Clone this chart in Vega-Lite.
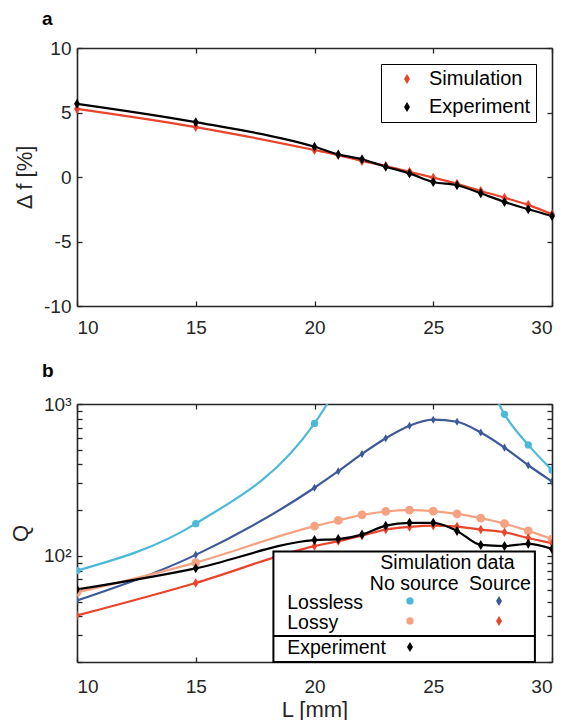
{
  "$schema": "https://vega.github.io/schema/vega-lite/v6.json",
  "padding": {"left": 9, "top": 10, "right": 0, "bottom": 0},
  "spacing": 25,
  "resolve": {"scale": {"color": "independent", "shape": "independent", "size": "independent"}, "legend": {"color": "independent", "shape": "independent", "size": "independent"}},
  "config": {
    "font": "Liberation Sans",
    "view": {"stroke": null},
    "axis": {
      "domainColor": "#262626", "domainWidth": 1.6, "tickColor": "#262626", "tickWidth": 1.3,
      "tickSize": -5, "labelColor": "#262626", "labelFontSize": 19, "labelFont": "Liberation Sans",
      "titleColor": "#262626", "titleFontSize": 22, "titleFontWeight": "normal", "titleFont": "Liberation Sans",
      "grid": false
    },
    "title": {"fontSize": 19, "fontWeight": "bold", "font": "Liberation Sans", "color": "#000000"}
  },
  "vconcat": [
    {
      "width": 475, "height": 258,
      "title": {"text": "a", "anchor": "start", "frame": "group", "dx": -35, "offset": 10},
      "data": {"values": [
        {"L": 10, "df": 5.28, "series": "Simulation"},
        {"L": 15, "df": 3.87, "series": "Simulation"},
        {"L": 20, "df": 2.09, "series": "Simulation"},
        {"L": 21, "df": 1.70, "series": "Simulation"},
        {"L": 22, "df": 1.24, "series": "Simulation"},
        {"L": 23, "df": 0.85, "series": "Simulation"},
        {"L": 24, "df": 0.41, "series": "Simulation"},
        {"L": 25, "df": -0.05, "series": "Simulation"},
        {"L": 26, "df": -0.52, "series": "Simulation"},
        {"L": 27, "df": -1.08, "series": "Simulation"},
        {"L": 28, "df": -1.60, "series": "Simulation"},
        {"L": 29, "df": -2.16, "series": "Simulation"},
        {"L": 30, "df": -2.89, "series": "Simulation"},
        {"L": 10, "df": 5.67, "series": "Experiment"},
        {"L": 15, "df": 4.25, "series": "Experiment"},
        {"L": 20, "df": 2.35, "series": "Experiment"},
        {"L": 21, "df": 1.75, "series": "Experiment"},
        {"L": 22, "df": 1.37, "series": "Experiment"},
        {"L": 23, "df": 0.80, "series": "Experiment"},
        {"L": 24, "df": 0.28, "series": "Experiment"},
        {"L": 25, "df": -0.39, "series": "Experiment"},
        {"L": 26, "df": -0.64, "series": "Experiment"},
        {"L": 27, "df": -1.26, "series": "Experiment"},
        {"L": 28, "df": -1.93, "series": "Experiment"},
        {"L": 29, "df": -2.50, "series": "Experiment"},
        {"L": 30, "df": -3.02, "series": "Experiment"}
      ]},
      "layer": [
        {
          "mark": {"type": "line", "strokeWidth": 2.2, "interpolate": "monotone"},
          "encoding": {
            "x": {"field": "L", "type": "quantitative", "scale": {"domain": [10, 30], "nice": false},
                  "axis": {"orient": "bottom", "values": [10, 15, 20, 25, 30], "title": null, "labelPadding": 17}},
            "y": {"field": "df", "type": "quantitative", "scale": {"domain": [-10, 10], "nice": false},
                  "axis": {"orient": "left", "values": [-10, -5, 0, 5, 10], "format": "d", "labelExpr": "replace(datum.label, '−', '-')", "title": "Δ f [%]", "labelPadding": 11, "titlePadding": 7}},
            "color": {"field": "series", "type": "nominal",
                      "scale": {"domain": ["Simulation", "Experiment"], "range": ["#e8452c", "#000000"]},
                      "legend": {"title": null, "orient": "top-right", "offset": 16, "strokeColor": "#000000",
                                 "fillColor": "#ffffff", "padding": 5, "labelFontSize": 20, "labelColor": "#000000",
                                 "symbolType": "M0,-1L0.6,0L0,1L-0.6,0Z", "symbolSize": 100, "symbolOffset": 11,
                                 "labelOffset": 12, "rowPadding": 8, "symbolStrokeWidth": 0, "symbolOpacity": 1}}
          }
        },
        {
          "mark": {"type": "point", "filled": true, "opacity": 1, "size": 100, "shape": "M0,-1L0.6,0L0,1L-0.6,0Z"},
          "encoding": {
            "x": {"field": "L", "type": "quantitative",
                  "axis": {"orient": "top", "values": [10, 15, 20, 25, 30], "labels": false, "title": null}},
            "y": {"field": "df", "type": "quantitative",
                  "axis": {"orient": "right", "values": [-10, -5, 0, 5, 10], "labels": false, "title": null}},
            "color": {"field": "series", "type": "nominal",
                      "legend": {"title": null, "orient": "top-right", "offset": 16, "strokeColor": "#000000",
                                 "fillColor": "#ffffff", "padding": 5, "labelFontSize": 20, "labelColor": "#000000",
                                 "symbolType": "M0,-1L0.6,0L0,1L-0.6,0Z", "symbolSize": 100, "symbolOffset": 11,
                                 "labelOffset": 12, "rowPadding": 8, "symbolStrokeWidth": 0, "symbolOpacity": 1}}
          }
        }
      ],
      "resolve": {"axis": {"x": "independent", "y": "independent"}}
    },
    {
      "width": 475, "height": 258,
      "title": {"text": "b", "anchor": "start", "frame": "group", "dx": -35, "offset": 14},
      "data": {"values": [
        {"L": 10, "Q": 80, "series": "Lossless no source"},
        {"L": 15, "Q": 163, "series": "Lossless no source"},
        {"L": 20, "Q": 745, "series": "Lossless no source"},
        {"L": 21, "Q": 1300, "series": "Lossless no source"},
        {"L": 22, "Q": 2200, "series": "Lossless no source"},
        {"L": 23, "Q": 3500, "series": "Lossless no source"},
        {"L": 24, "Q": 5000, "series": "Lossless no source"},
        {"L": 25, "Q": 5500, "series": "Lossless no source"},
        {"L": 26, "Q": 4000, "series": "Lossless no source"},
        {"L": 27, "Q": 1800, "series": "Lossless no source"},
        {"L": 28, "Q": 855, "series": "Lossless no source"},
        {"L": 29, "Q": 538, "series": "Lossless no source"},
        {"L": 30, "Q": 367, "series": "Lossless no source"},
        {"L": 10, "Q": 50.8, "series": "Lossless source"},
        {"L": 15, "Q": 101.5, "series": "Lossless source"},
        {"L": 20, "Q": 281, "series": "Lossless source"},
        {"L": 21, "Q": 361, "series": "Lossless source"},
        {"L": 22, "Q": 469, "series": "Lossless source"},
        {"L": 23, "Q": 595, "series": "Lossless source"},
        {"L": 24, "Q": 719, "series": "Lossless source"},
        {"L": 25, "Q": 788, "series": "Lossless source"},
        {"L": 26, "Q": 764, "series": "Lossless source"},
        {"L": 27, "Q": 649, "series": "Lossless source"},
        {"L": 28, "Q": 516, "series": "Lossless source"},
        {"L": 29, "Q": 395, "series": "Lossless source"},
        {"L": 30, "Q": 309, "series": "Lossless source"},
        {"L": 10, "Q": 57.4, "series": "Lossy no source"},
        {"L": 15, "Q": 90.3, "series": "Lossy no source"},
        {"L": 20, "Q": 157, "series": "Lossy no source"},
        {"L": 21, "Q": 171, "series": "Lossy no source"},
        {"L": 22, "Q": 186, "series": "Lossy no source"},
        {"L": 23, "Q": 196, "series": "Lossy no source"},
        {"L": 24, "Q": 200, "series": "Lossy no source"},
        {"L": 25, "Q": 197, "series": "Lossy no source"},
        {"L": 26, "Q": 189, "series": "Lossy no source"},
        {"L": 27, "Q": 177, "series": "Lossy no source"},
        {"L": 28, "Q": 163, "series": "Lossy no source"},
        {"L": 29, "Q": 146, "series": "Lossy no source"},
        {"L": 30, "Q": 129, "series": "Lossy no source"},
        {"L": 10, "Q": 40.5, "series": "Lossy source"},
        {"L": 15, "Q": 66.3, "series": "Lossy source"},
        {"L": 20, "Q": 116, "series": "Lossy source"},
        {"L": 21, "Q": 125, "series": "Lossy source"},
        {"L": 22, "Q": 136, "series": "Lossy source"},
        {"L": 23, "Q": 149, "series": "Lossy source"},
        {"L": 24, "Q": 155, "series": "Lossy source"},
        {"L": 25, "Q": 158, "series": "Lossy source"},
        {"L": 26, "Q": 156, "series": "Lossy source"},
        {"L": 27, "Q": 149, "series": "Lossy source"},
        {"L": 28, "Q": 143, "series": "Lossy source"},
        {"L": 29, "Q": 131, "series": "Lossy source"},
        {"L": 30, "Q": 121, "series": "Lossy source"},
        {"L": 10, "Q": 60.1, "series": "Experiment"},
        {"L": 15, "Q": 82.8, "series": "Experiment"},
        {"L": 20, "Q": 127, "series": "Experiment"},
        {"L": 21, "Q": 129, "series": "Experiment"},
        {"L": 22, "Q": 138, "series": "Experiment"},
        {"L": 23, "Q": 158, "series": "Experiment"},
        {"L": 24, "Q": 165, "series": "Experiment"},
        {"L": 25, "Q": 165, "series": "Experiment"},
        {"L": 26, "Q": 146, "series": "Experiment"},
        {"L": 27, "Q": 118, "series": "Experiment"},
        {"L": 28, "Q": 116, "series": "Experiment"},
        {"L": 29, "Q": 120, "series": "Experiment"},
        {"L": 30, "Q": 111, "series": "Experiment"}
      ]},
      "layer": [
        {
          "mark": {"type": "line", "strokeWidth": 2.2, "interpolate": "monotone", "clip": true},
          "encoding": {
            "x": {"field": "L", "type": "quantitative", "scale": {"domain": [10, 30], "nice": false},
                  "axis": {"orient": "bottom", "values": [10, 15, 20, 25, 30], "title": "L [mm]", "labelPadding": 20, "titlePadding": 3}},
            "y": {"field": "Q", "type": "quantitative", "scale": {"type": "log", "domain": [20, 1000], "nice": false},
                  "axis": {"orient": "left", "values": [20, 30, 40, 50, 60, 70, 80, 90, 100, 200, 300, 400, 500, 600, 700, 800, 900, 1000],
                           "labelExpr": "datum.value == 100 ? '10²' : datum.value == 1000 ? '10³' : ''",
                           "title": "Q", "labelPadding": 11, "titlePadding": 11}},
            "color": {"field": "series", "type": "nominal",
                      "scale": {"domain": ["Lossless no source", "Lossless source", "Lossy no source", "Lossy source", "Experiment"],
                                "range": ["#4cb9d9", "#3d5a98", "#f5a283", "#e8452c", "#000000"]}, "legend": null}
          }
        },
        {
          "mark": {"type": "point", "filled": true, "opacity": 1, "clip": true},
          "encoding": {
            "x": {"field": "L", "type": "quantitative",
                  "axis": {"orient": "top", "values": [10, 15, 20, 25, 30], "labels": false, "title": null}},
            "y": {"field": "Q", "type": "quantitative",
                  "axis": {"orient": "right", "values": [20, 30, 40, 50, 60, 70, 80, 90, 100, 200, 300, 400, 500, 600, 700, 800, 900, 1000], "labels": false, "title": null}},
            "color": {"field": "series", "type": "nominal", "legend": null},
            "shape": {"field": "series", "type": "nominal",
                      "scale": {"domain": ["Lossless no source", "Lossless source", "Lossy no source", "Lossy source", "Experiment"],
                                "range": ["circle", "M0,-1L0.6,0L0,1L-0.6,0Z", "circle", "M0,-1L0.6,0L0,1L-0.6,0Z", "M0,-1L0.6,0L0,1L-0.6,0Z"]}, "legend": null},
            "size": {"field": "series", "type": "nominal",
                     "scale": {"domain": ["Lossless no source", "Lossless source", "Lossy no source", "Lossy source", "Experiment"],
                               "range": [54, 100, 54, 100, 100]}, "legend": null}
          }
        },
        {
          "data": {"values": [{}]},
          "mark": {"type": "rect", "fill": "#ffffff", "stroke": "#000000", "strokeWidth": 2},
          "encoding": {
            "x": {"datum": 18.27, "type": "quantitative", "axis": null},
            "x2": {"datum": 29.28},
            "y": {"datum": 20, "type": "quantitative", "axis": null},
            "y2": {"datum": 106.9}
          }
        },
        {
          "data": {"values": [{}]},
          "mark": {"type": "rule", "stroke": "#000000", "strokeWidth": 2},
          "encoding": {
            "x": {"datum": 18.27, "type": "quantitative", "axis": null},
            "x2": {"datum": 29.28},
            "y": {"datum": 29.7, "type": "quantitative", "axis": null}
          }
        },
        {
          "data": {"values": [{}]},
          "mark": {"type": "text", "fontSize": 19.5, "align": "center", "baseline": "middle", "fill": "#000000"},
          "encoding": {"x": {"datum": 25.6, "type": "quantitative", "axis": null}, "y": {"datum": 89.8, "type": "quantitative", "axis": null}, "text": {"value": "Simulation data"}}
        },
        {
          "data": {"values": [{}]},
          "mark": {"type": "text", "fontSize": 19.5, "align": "center", "baseline": "middle", "fill": "#000000"},
          "encoding": {"x": {"datum": 24.2, "type": "quantitative", "axis": null}, "y": {"datum": 65.0, "type": "quantitative", "axis": null}, "text": {"value": "No source"}}
        },
        {
          "data": {"values": [{}]},
          "mark": {"type": "text", "fontSize": 19.5, "align": "center", "baseline": "middle", "fill": "#000000"},
          "encoding": {"x": {"datum": 27.81, "type": "quantitative", "axis": null}, "y": {"datum": 65.0, "type": "quantitative", "axis": null}, "text": {"value": "Source"}}
        },
        {
          "data": {"values": [{}]},
          "mark": {"type": "text", "fontSize": 19.5, "align": "left", "baseline": "middle", "fill": "#000000"},
          "encoding": {"x": {"datum": 18.85, "type": "quantitative", "axis": null}, "y": {"datum": 49.3, "type": "quantitative", "axis": null}, "text": {"value": "Lossless"}}
        },
        {
          "data": {"values": [{}]},
          "mark": {"type": "text", "fontSize": 19.5, "align": "left", "baseline": "middle", "fill": "#000000"},
          "encoding": {"x": {"datum": 18.85, "type": "quantitative", "axis": null}, "y": {"datum": 36.4, "type": "quantitative", "axis": null}, "text": {"value": "Lossy"}}
        },
        {
          "data": {"values": [{}]},
          "mark": {"type": "text", "fontSize": 19.5, "align": "left", "baseline": "middle", "fill": "#000000"},
          "encoding": {"x": {"datum": 18.85, "type": "quantitative", "axis": null}, "y": {"datum": 24.9, "type": "quantitative", "axis": null}, "text": {"value": "Experiment"}}
        },
        {
          "data": {"values": [{}]},
          "mark": {"type": "point", "filled": true, "opacity": 1, "size": 54, "shape": "circle", "fill": "#4cb9d9", "strokeWidth": 0},
          "encoding": {"x": {"datum": 24.02, "type": "quantitative", "axis": null}, "y": {"datum": 50.5, "type": "quantitative", "axis": null}}
        },
        {
          "data": {"values": [{}]},
          "mark": {"type": "point", "filled": true, "opacity": 1, "size": 100, "shape": "M0,-1L0.6,0L0,1L-0.6,0Z", "fill": "#3d5a98", "strokeWidth": 0},
          "encoding": {"x": {"datum": 27.77, "type": "quantitative", "axis": null}, "y": {"datum": 50.5, "type": "quantitative", "axis": null}}
        },
        {
          "data": {"values": [{}]},
          "mark": {"type": "point", "filled": true, "opacity": 1, "size": 54, "shape": "circle", "fill": "#f5a283", "strokeWidth": 0},
          "encoding": {"x": {"datum": 24.02, "type": "quantitative", "axis": null}, "y": {"datum": 37.3, "type": "quantitative", "axis": null}}
        },
        {
          "data": {"values": [{}]},
          "mark": {"type": "point", "filled": true, "opacity": 1, "size": 100, "shape": "M0,-1L0.6,0L0,1L-0.6,0Z", "fill": "#e8452c", "strokeWidth": 0},
          "encoding": {"x": {"datum": 27.77, "type": "quantitative", "axis": null}, "y": {"datum": 37.3, "type": "quantitative", "axis": null}}
        },
        {
          "data": {"values": [{}]},
          "mark": {"type": "point", "filled": true, "opacity": 1, "size": 100, "shape": "M0,-1L0.6,0L0,1L-0.6,0Z", "fill": "#000000", "strokeWidth": 0},
          "encoding": {"x": {"datum": 24.02, "type": "quantitative", "axis": null}, "y": {"datum": 25.1, "type": "quantitative", "axis": null}}
        }
      ],
      "resolve": {"axis": {"x": "independent", "y": "independent"}}
    }
  ]
}
